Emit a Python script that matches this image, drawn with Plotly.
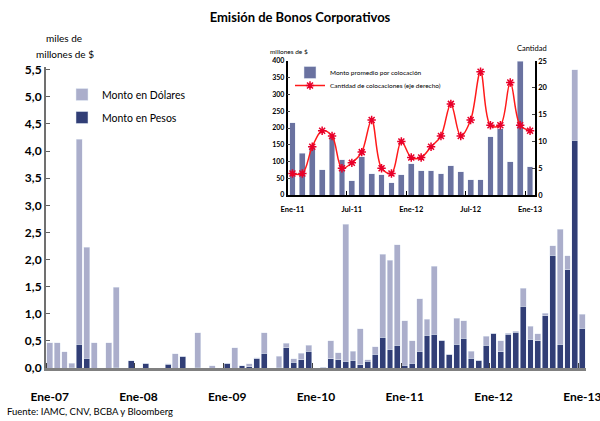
import plotly.graph_objects as go

# Emision mensual (miles de millones de $), Ene-07 a Ene-13
anios = ["07", "08", "09", "10", "11", "12", "13"]
meses_abr = ["Ene", "Feb", "Mar", "Abr", "May", "Jun", "Jul", "Ago", "Sep", "Oct", "Nov", "Dic"]
meses = [m + "-" + a for a in anios for m in meses_abr][:73]

pesos = [0, 0, 0, 0.01, 0.44, 0.18, 0, 0, 0, 0.01,
         0, 0.13, 0, 0.09, 0, 0, 0.07, 0, 0.22, 0,
         0.01, 0, 0, 0, 0.09, 0, 0.04, 0.02, 0.17, 0.27,
         0, 0.01, 0.37, 0.11, 0.15, 0.31, 0, 0.01, 0.17, 0.15,
         0.12, 0.14, 0.06, 0.12, 0.25, 0.57, 0.35, 0.42, 0.05, 0.09,
         0.31, 0.60, 0.62, 0.51, 0.25, 0.44, 0.55, 0.18, 0.14, 0.42,
         0.64, 0.30, 0.62, 0.66, 1.14, 0.53, 0.50, 0.96, 2.08, 0.44,
         1.81, 4.20, 0.73]
dolares = [0.47, 0.47, 0.30, 0.08, 3.78, 2.05, 0.47, 0, 0.47, 1.48,
           0, 0, 0, 0, 0, 0, 0.01, 0.26, 0, 0,
           0.64, 0, 0.04, 0, 0, 0.37, 0, 0.06, 0.02, 0.38,
           0, 0.21, 0.09, 0.06, 0.12, 0.11, 0, 0, 0.33, 0.13,
           2.53, 0.17, 0.66, 0.03, 0.14, 1.53, 1.64, 1.85, 0.82, 0.41,
           0.97, 0.30, 1.26, 0, 0, 0.48, 0.32, 0.13, 0, 0.17,
           0, 0.20, 0.02, 0.02, 0.33, 0.24, 0.13, 0.05, 0.17, 2.12,
           0.26, 1.30, 0.26]

main_tickvals = [0, 12, 24, 36, 48, 60, 72]
main_ticktext = ["Ene-07", "Ene-08", "Ene-09", "Ene-10", "Ene-11", "Ene-12", "Ene-13"]
y_tickvals = [0, 0.5, 1, 1.5, 2, 2.5, 3, 3.5, 4, 4.5, 5, 5.5]
y_ticktext = ["0,0", "0,5", "1,0", "1,5", "2,0", "2,5", "3,0", "3,5", "4,0", "4,5", "5,0", "5,5"]

# Recuadro: Ene-11 a Ene-13
monto_promedio = [215, 125, 143, 75, 172, 105, 42, 114, 63, 60, 36, 60, 93,
                  72, 72, 63, 87, 69, 45, 45, 174, 198, 99, 400, 84]
cantidad = [4, 4, 9, 12, 11, 5, 6, 8, 14, 5, 4, 10, 7,
            7, 9, 11, 17, 11, 14, 23, 13, 13, 21, 13, 12]
inset_tickvals = [0, 6, 12, 18, 24]
inset_ticktext = ["Ene-11", "Jul-11", "Ene-12", "Jul-12", "Ene-13"]

FONT = "Lato"
LIGHT = "#ABAECB"
DARK = "#313E76"
INSET_BAR = "#6A72A0"

W, H = 600, 421
L, R, T, B = 46, 14, 55, 53
PW, PH = W - L - R, H - T - B


def px(x):
    return (x - L) / PW


def py(y):
    return (H - B - y) / PH


x_main = list(range(len(meses)))
x_inset = list(range(len(monto_promedio)))

fig = go.Figure()
fig.add_trace(go.Bar(x=x_main, y=pesos, name="Monto en Pesos", marker_color=DARK,
                     width=0.8, legendgroup="p", legendrank=2, legend="legend"))
fig.add_trace(go.Bar(x=x_main, y=dolares, name="Monto en Dólares", marker_color=LIGHT,
                     width=0.8, legendgroup="d", legendrank=1, legend="legend"))

fig.add_trace(go.Bar(x=x_inset, y=monto_promedio, name="Monto promedio por colocación",
                     marker_color=INSET_BAR, width=0.58, xaxis="x2", yaxis="y2",
                     legend="legend2"))
fig.add_trace(go.Scatter(x=x_inset, y=cantidad, name="Cantidad de colocaciones (eje derecho)",
                         mode="lines+markers", line=dict(color="#FF1A1A", width=1.5, shape="spline"),
                         marker=dict(symbol="asterisk-open", size=7, color="#E8002A",
                                     line=dict(color="#E8002A", width=1.5)),
                         xaxis="x2", yaxis="y3", legend="legend3"))

fig.update_layout(
    width=W, height=H,
    margin=dict(l=L, r=R, t=T, b=B),
    paper_bgcolor="white", plot_bgcolor="rgba(0,0,0,0)",
    barmode="stack",
    font=dict(family=FONT, color="black"),
    title=dict(text="<b>Emisión de Bonos Corporativos</b>", x=0.5, xanchor="center",
               y=1 - 17 / H, yanchor="middle", font=dict(size=13)),
    xaxis=dict(range=[-0.5, 72.5], tickvals=main_tickvals, ticktext=main_ticktext,
               ticks="", showline=True, linecolor="#808080", linewidth=2.5, automargin=False,
               tickfont=dict(size=12, family=FONT, weight="bold"), ticklabelstandoff=16,
               ticklabeloverflow="allow",
               minor=dict(tick0=-0.5, dtick=12, ticks="inside", ticklen=5,
                          tickcolor="#404040", tickwidth=1),
               showgrid=False, zeroline=False),
    yaxis=dict(domain=[0, py(67)], range=[0, 5.55], tickvals=y_tickvals, ticktext=y_ticktext,
               ticks="inside", ticklen=4, tickcolor="#606060", showline=True, automargin=False,
               linecolor="#707070", linewidth=2, showgrid=False, zeroline=False,
               tickfont=dict(size=12, family=FONT, weight="bold")),
    xaxis2=dict(domain=[px(287.5), px(535)], anchor="y2", range=[-0.5, 24.5],
                tickvals=inset_tickvals, ticktext=inset_ticktext, ticks="", automargin=False,
                showline=True, linecolor="black", linewidth=1.5, ticklabeloverflow="allow",
                minor=dict(tick0=-0.5, dtick=6, ticks="inside", ticklen=4,
                           tickcolor="black", tickwidth=1),
                tickfont=dict(size=7.5, family=FONT, weight="bold"), ticklabelstandoff=6,
                showgrid=False, zeroline=False),
    yaxis2=dict(domain=[py(195), py(61)], anchor="x2", range=[0, 400], dtick=50,
                ticks="inside", ticklen=3, showline=True, linecolor="black", linewidth=1.5,
                tickfont=dict(size=7, family=FONT, weight="bold"), automargin=False,
                showgrid=False, zeroline=False),
    yaxis3=dict(overlaying="y2", side="right", anchor="x2", range=[0, 25], dtick=5,
                ticks="inside", ticklen=3, showline=True, linecolor="black", linewidth=1.5,
                tickfont=dict(size=7.5, family=FONT, weight="bold"), automargin=False,
                showgrid=False, zeroline=False),
    legend=dict(x=px(62), y=py(80), xanchor="left", yanchor="top",
                traceorder="grouped", tracegroupgap=4,
                bgcolor="rgba(0,0,0,0)", font=dict(size=10.5, family=FONT)),
    legend2=dict(x=px(290), y=py(58), xanchor="left", yanchor="top",
                 bgcolor="rgba(0,0,0,0)", font=dict(size=6.5, family=FONT)),
    legend3=dict(x=px(290), y=py(71), xanchor="left", yanchor="top",
                 bgcolor="rgba(0,0,0,0)", font=dict(size=6.5, family=FONT)),
    showlegend=True,
)

fig.add_annotation(text="miles de", x=px(64), y=py(38), xref="paper", yref="paper",
                   showarrow=False, font=dict(size=10), xanchor="center", yanchor="middle")
fig.add_annotation(text="millones de $", x=px(65), y=py(54), xref="paper", yref="paper",
                   showarrow=False, font=dict(size=10), xanchor="center", yanchor="middle")
fig.add_annotation(text="millones de $", x=px(268), y=py(51), xref="paper", yref="paper",
                   showarrow=False, font=dict(size=6.5), xanchor="left", yanchor="middle")
fig.add_annotation(text="Cantidad", x=px(549), y=py(49), xref="paper", yref="paper",
                   showarrow=False, font=dict(size=7.5), xanchor="right", yanchor="middle")
fig.add_annotation(text="Fuente: IAMC, CNV, BCBA y Bloomberg", x=px(5), y=py(411),
                   xref="paper", yref="paper", showarrow=False, font=dict(size=9.5),
                   xanchor="left", yanchor="middle")

# quitar el margen por defecto del body para que la figura ocupe la ventana
fig.write_html("out.html", config={"displayModeBar": False},
               post_script="document.body.style.margin='0';")
